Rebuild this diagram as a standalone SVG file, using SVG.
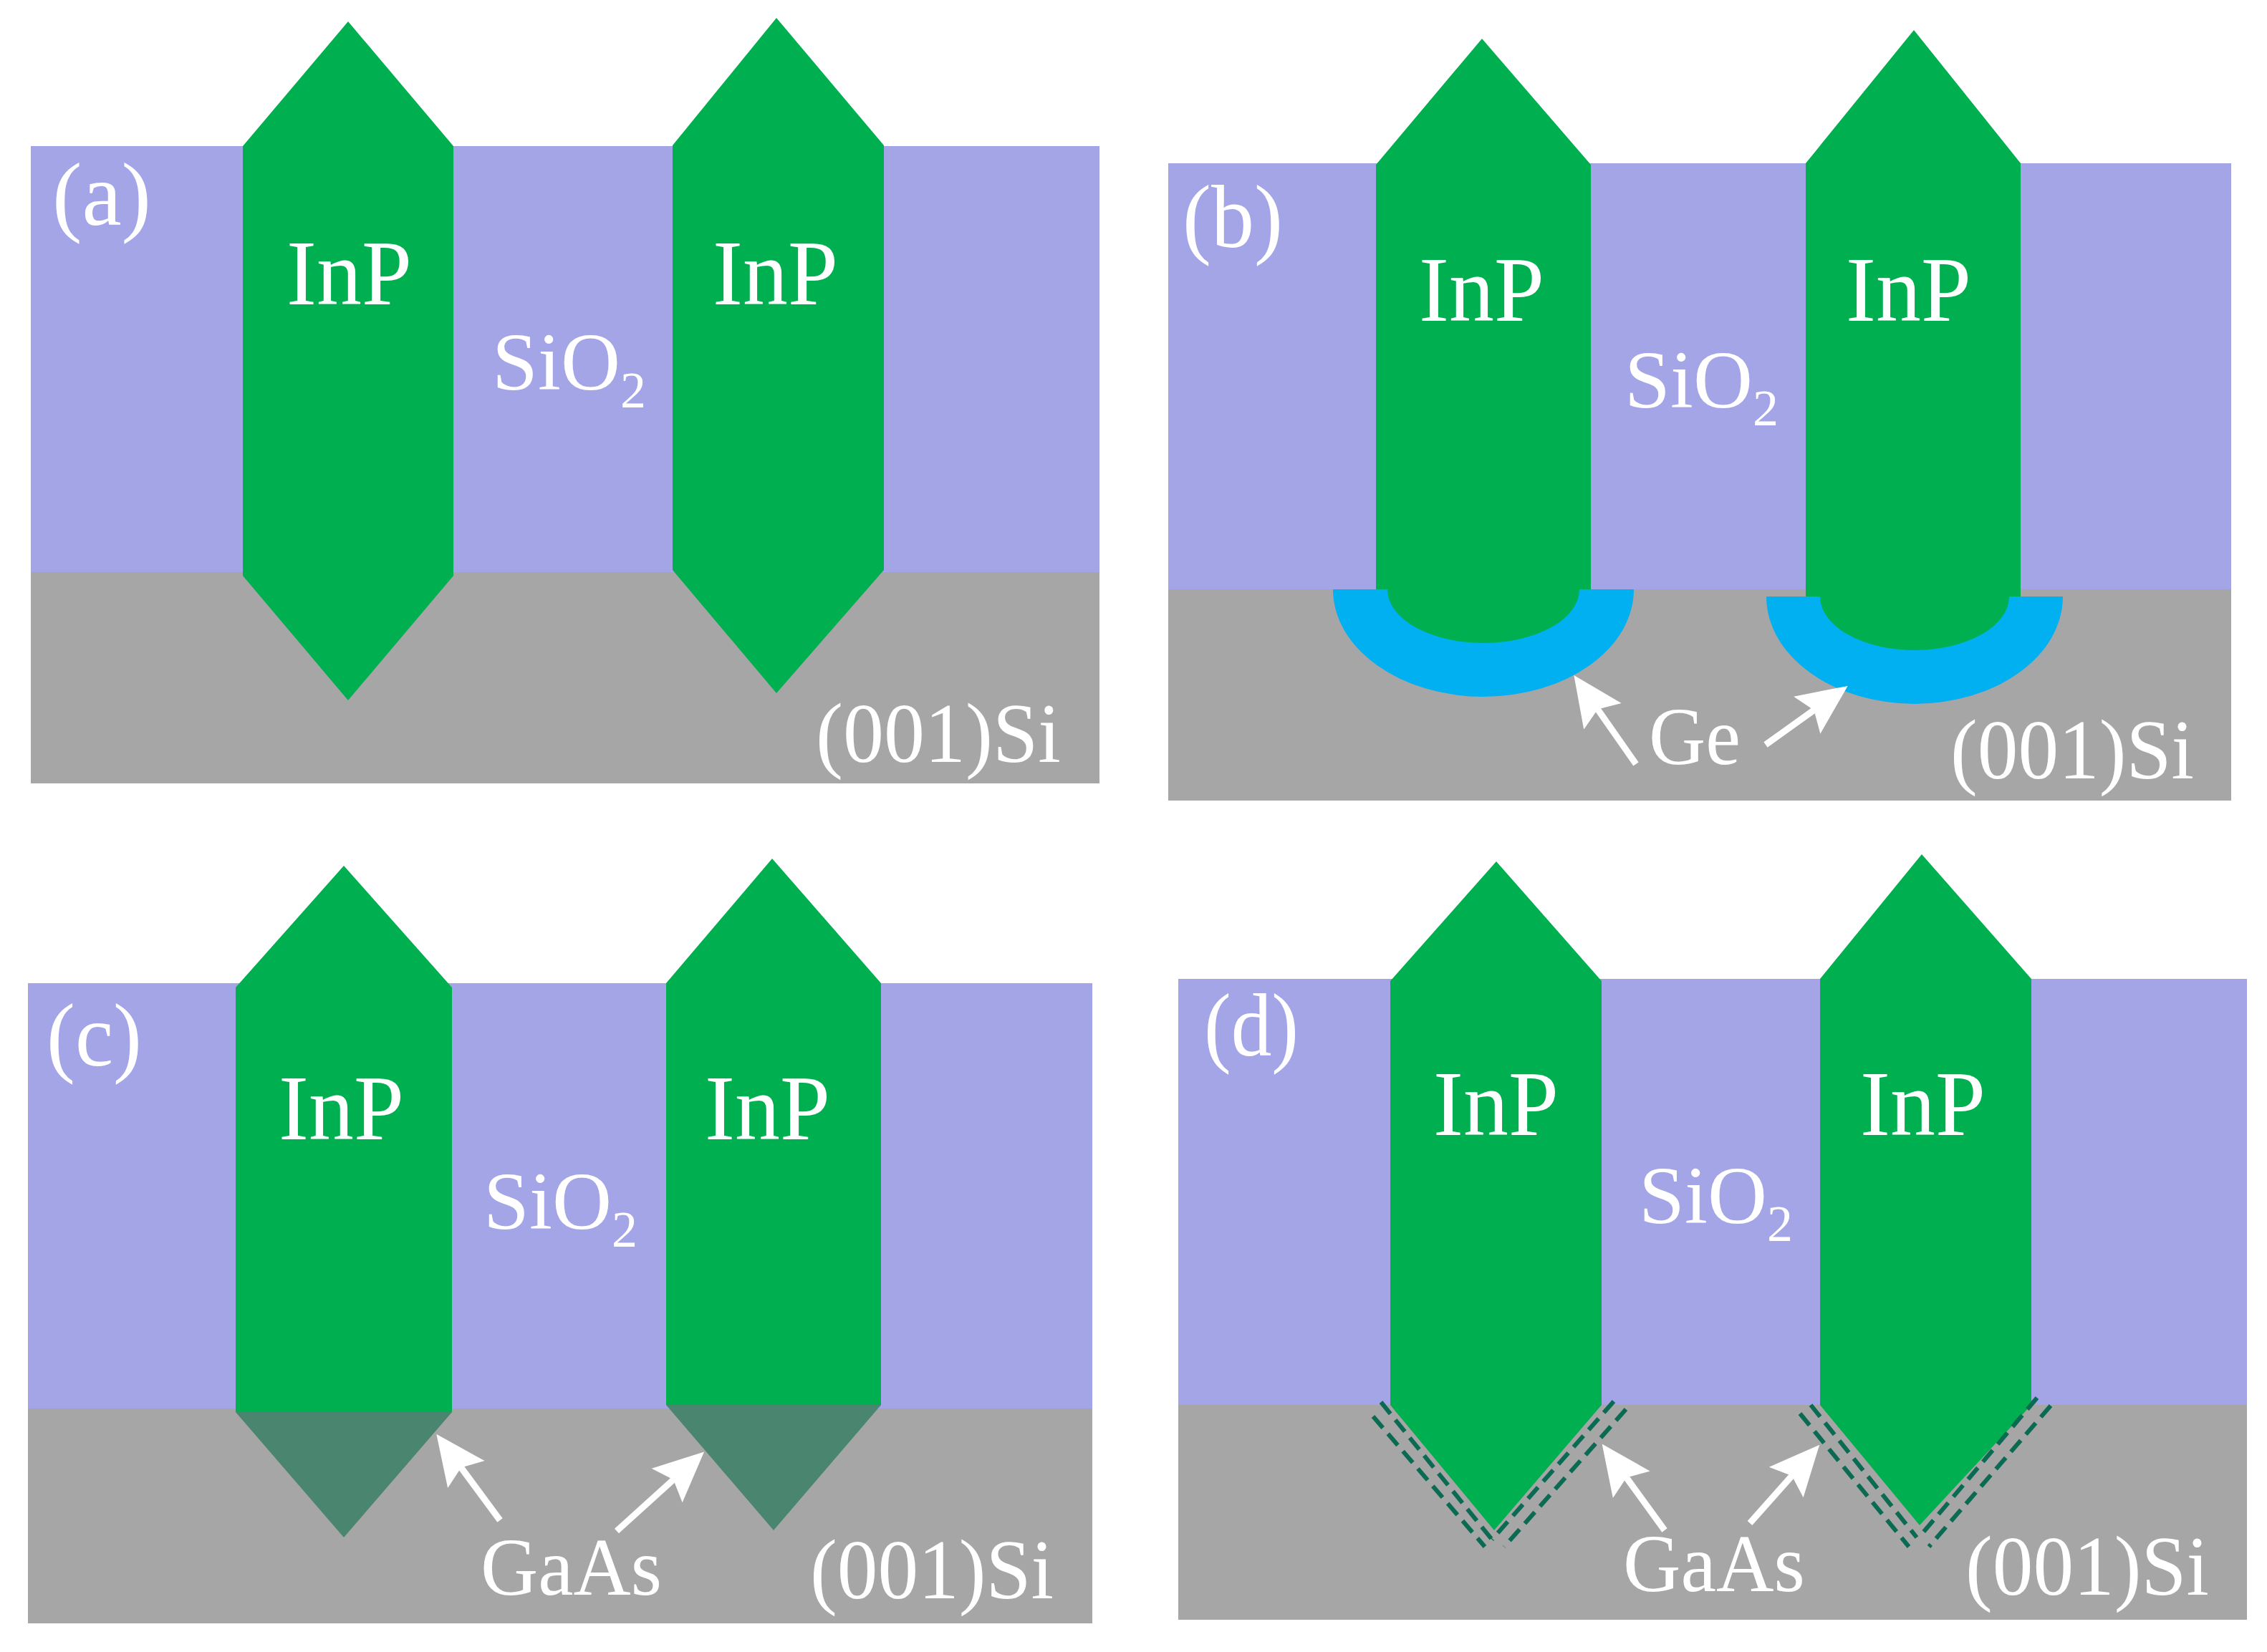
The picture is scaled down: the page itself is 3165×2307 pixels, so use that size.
<svg xmlns="http://www.w3.org/2000/svg" width="3165" height="2307" viewBox="0 0 3165 2307">
<style>
.ox{fill:#A3A5E6}.si{fill:#A6A6A6}.inp{fill:#00AF50}.ge{fill:#00B0F0}.gaas{fill:#4A8570}
text{font-family:"Liberation Serif","Times New Roman",serif;fill:#fff}
.l{font-size:130px}.s{font-size:115px}.p{font-size:124px}.m{font-size:118px}.g{font-size:115px}
.sub{font-size:72px}
.arr{stroke:#fff;stroke-width:9;fill:none;marker-end:url(#head)}
.dash{stroke:#0A6B52;stroke-width:6;fill:none;stroke-dasharray:21 11}
</style>
<defs>
<marker id="head" markerUnits="userSpaceOnUse" markerWidth="70" markerHeight="66" viewBox="0 0 70 66" refX="20" refY="33" orient="auto"><path d="M70,33L0,1L12,33L0,65Z" fill="#fff"/></marker>
</defs>
<rect width="3165" height="2307" fill="#fff"/>

<g id="panel-a">
<rect class="ox" x="43" y="204" width="1492" height="595"/>
<rect class="si" x="43" y="799" width="1492" height="295"/>
<polygon id="a-inp-1" class="inp" points="486,30 633,204 633,804 486,978 339,804 339,204"/>
<polygon id="a-inp-2" class="inp" points="1084,25 1234,203 1234,796 1084,968 939,796 939,203"/>
<text class="p" x="73" y="314" textLength="138" lengthAdjust="spacingAndGlyphs">(a)</text>
<text class="l" x="400" y="425" textLength="175" lengthAdjust="spacingAndGlyphs">InP</text>
<text class="l" x="995" y="425" textLength="175" lengthAdjust="spacingAndGlyphs">InP</text>
<text class="s" x="687" y="544">SiO<tspan class="sub" dy="25">2</tspan></text>
<text class="m" x="1139" y="1064" textLength="342" lengthAdjust="spacingAndGlyphs">(001)Si</text>
</g>

<g id="panel-b">
<rect class="ox" x="1631" y="228" width="1484" height="595"/>
<rect class="si" x="1631" y="823" width="1484" height="295"/>
<path id="b-ge-1" class="ge" d="M1861,823H2281A210,150 0 0 1 1861,823Z"/>
<path id="b-ge-2" class="ge" d="M2466,833H2880A207,150 0 0 1 2466,833Z"/>
<path id="b-inp-1" class="inp" d="M2069,54L2221,230V823H2205A134,75 0 0 1 1937,823H1921V230Z"/>
<path id="b-inp-2" class="inp" d="M2672,42L2821,228V833H2805A132,75 0 0 1 2541,833H2521V228Z"/>
<text class="p" x="1651" y="345" textLength="140" lengthAdjust="spacingAndGlyphs">(b)</text>
<text class="l" x="1981" y="448" textLength="175" lengthAdjust="spacingAndGlyphs">InP</text>
<text class="l" x="2577" y="448" textLength="175" lengthAdjust="spacingAndGlyphs">InP</text>
<text class="s" x="2268" y="569">SiO<tspan class="sub" dy="25">2</tspan></text>
<text class="g" x="2302" y="1067" textLength="128" lengthAdjust="spacingAndGlyphs">Ge</text>
<text class="m" x="2723" y="1087" textLength="340" lengthAdjust="spacingAndGlyphs">(001)Si</text>
</g>

<g id="panel-c">
<rect class="ox" x="39" y="1373" width="1486" height="594"/>
<rect class="si" x="39" y="1967" width="1486" height="300"/>
<polygon id="c-inp-1" class="inp" points="480,1209 631,1379 631,1972 329,1972 329,1379"/>
<polygon id="c-inp-2" class="inp" points="1078,1199 1230,1373 1230,1962 930,1962 930,1373"/>
<polygon id="c-gaas-1" class="gaas" points="329,1972 631,1972 480,2147"/>
<polygon id="c-gaas-2" class="gaas" points="930,1962 1230,1962 1080,2137"/>
<text class="p" x="65" y="1488" textLength="133" lengthAdjust="spacingAndGlyphs">(c)</text>
<text class="l" x="389" y="1591" textLength="175" lengthAdjust="spacingAndGlyphs">InP</text>
<text class="l" x="984" y="1591" textLength="175" lengthAdjust="spacingAndGlyphs">InP</text>
<text class="s" x="675" y="1716">SiO<tspan class="sub" dy="25">2</tspan></text>
<text class="g" x="671" y="2227" textLength="253" lengthAdjust="spacingAndGlyphs">GaAs</text>
<text class="m" x="1131" y="2232" textLength="340" lengthAdjust="spacingAndGlyphs">(001)Si</text>
</g>

<g id="panel-d">
<rect class="ox" x="1645" y="1367" width="1492" height="595"/>
<rect class="si" x="1645" y="1962" width="1492" height="300"/>
<polygon id="d-inp-1" class="inp" points="2089,1203 2236,1370 2236,1962 2086,2137 1941,1962 1941,1370"/>
<polygon id="d-inp-2" class="inp" points="2683,1193 2836,1367 2836,1962 2680,2130 2541,1962 2541,1367"/>
<text class="p" x="1681" y="1474" textLength="132" lengthAdjust="spacingAndGlyphs">(d)</text>
<text class="l" x="2001" y="1585" textLength="175" lengthAdjust="spacingAndGlyphs">InP</text>
<text class="l" x="2597" y="1585" textLength="175" lengthAdjust="spacingAndGlyphs">InP</text>
<text class="s" x="2288" y="1708">SiO<tspan class="sub" dy="25">2</tspan></text>
<text class="g" x="2266" y="2222" textLength="254" lengthAdjust="spacingAndGlyphs">GaAs</text>
<text class="m" x="2744" y="2227" textLength="340" lengthAdjust="spacingAndGlyphs">(001)Si</text>
</g>

<g id="connectors">
<line class="arr" x1="2284" y1="1067" x2="2226" y2="984"/>
<line class="arr" x1="2465" y1="1040" x2="2539" y2="987"/>
<line class="arr" x1="698" y1="2123" x2="639" y2="2043"/>
<line class="arr" x1="861" y1="2138" x2="946" y2="2061"/>
<line class="arr" x1="2324" y1="2137" x2="2266" y2="2057"/>
<line class="arr" x1="2443" y1="2127" x2="2507" y2="2055"/>
<path class="dash" d="M1928,1958L2083,2150"/>
<path class="dash" d="M1917,1978L2073,2160"/>
<path class="dash" d="M2253,1957L2083,2150"/>
<path class="dash" d="M2270,1968L2100,2160"/>
<path class="dash" d="M2528,1962L2676,2147"/>
<path class="dash" d="M2513,1974L2665,2160"/>
<path class="dash" d="M2844,1952L2679,2147"/>
<path class="dash" d="M2863,1963L2693,2160"/>
</g>
</svg>
